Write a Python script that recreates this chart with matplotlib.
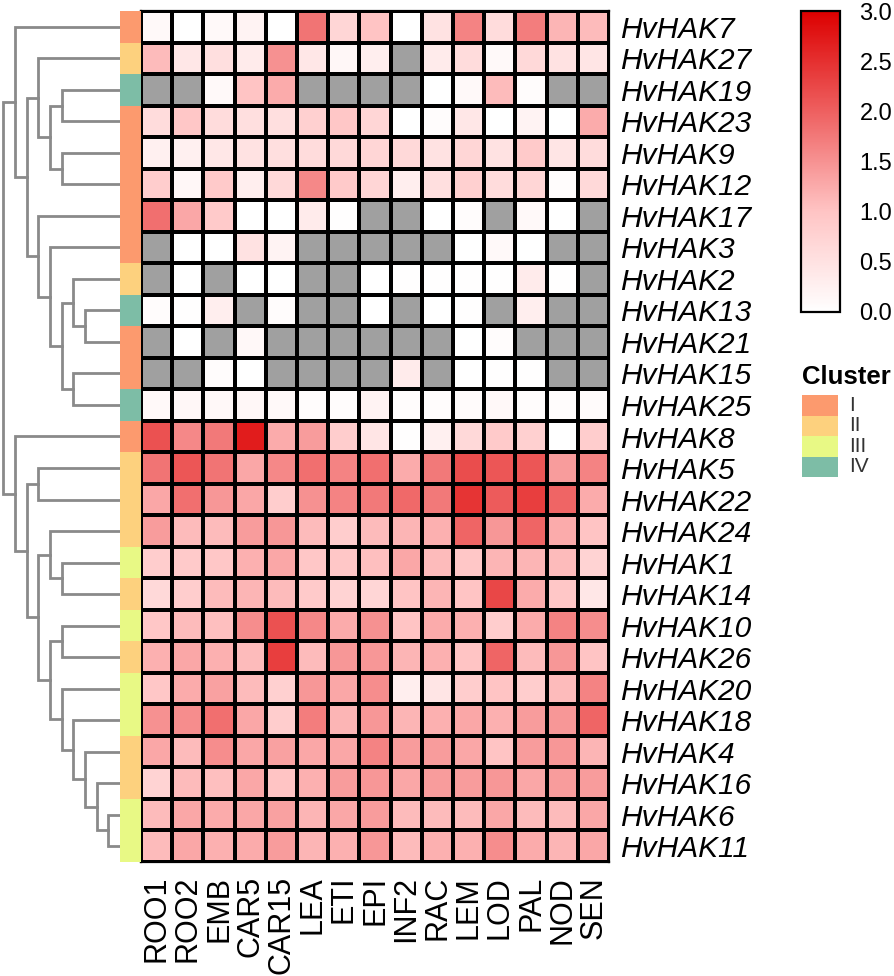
import numpy as np
import matplotlib
matplotlib.use("Agg")
import matplotlib.pyplot as plt
from matplotlib.colors import LinearSegmentedColormap

plt.rcParams['font.family'] = ['Liberation Sans', 'DejaVu Sans']

nan = np.nan

# tissues (columns)
tissues = ["ROO1", "ROO2", "EMB", "CAR5", "CAR15", "LEA", "ETI", "EPI",
           "INF2", "RAC", "LEM", "LOD", "PAL", "NOD", "SEN"]

# genes (rows, top to bottom)
genes = ["HvHAK7", "HvHAK27", "HvHAK19", "HvHAK23", "HvHAK9", "HvHAK12",
         "HvHAK17", "HvHAK3", "HvHAK2", "HvHAK13", "HvHAK21", "HvHAK15",
         "HvHAK25", "HvHAK8", "HvHAK5", "HvHAK22", "HvHAK24", "HvHAK1",
         "HvHAK14", "HvHAK10", "HvHAK26", "HvHAK20", "HvHAK18", "HvHAK4",
         "HvHAK16", "HvHAK6", "HvHAK11"]

# cluster of each gene
clusters = ["I", "II", "IV", "I", "I", "I", "I", "I", "II", "IV", "I", "I",
            "IV", "I", "II", "II", "II", "III", "II", "III", "II", "III",
            "III", "II", "II", "III", "III"]

# log expression values (nan = not detected)
expr = [
    [0.1, 0.0, 0.1, 0.2, 0.0, 1.8, 0.7, 1.0, 0.0, 0.5, 1.65, 0.6, 1.7, 1.15, 1.1],
    [1.1, 0.4, 0.55, 0.35, 1.5, 0.4, 0.15, 0.3, nan, 0.35, 0.6, 0.1, 0.65, 0.5, 0.45],
    [nan, nan, 0.1, 1.0, 1.25, nan, nan, nan, nan, 0.0, 0.1, 1.1, 0.05, nan, nan],
    [0.6, 0.95, 0.6, 0.55, 0.55, 0.8, 0.95, 0.7, 0.0, 0.05, 0.4, 0.0, 0.2, 0.0, 1.25],
    [0.25, 0.25, 0.4, 0.5, 0.55, 0.6, 0.65, 0.7, 0.65, 0.5, 0.7, 0.5, 0.9, 0.45, 0.6],
    [0.85, 0.15, 0.9, 0.3, 0.65, 1.6, 0.9, 0.7, 0.3, 0.55, 0.8, 0.6, 0.7, 0.05, 0.65],
    [1.85, 1.3, 0.9, 0.0, 0.0, 0.35, 0.02, nan, nan, 0.0, 0.05, nan, 0.1, 0.0, nan],
    [nan, 0.0, 0.0, 0.5, 0.2, nan, nan, nan, nan, nan, 0.0, 0.1, 0.0, nan, nan],
    [nan, 0.0, nan, 0.0, 0.0, nan, nan, 0.0, 0.03, 0.03, 0.02, 0.02, 0.35, 0.03, nan],
    [0.05, 0.02, 0.3, nan, 0.05, nan, nan, 0.0, nan, 0.0, 0.02, nan, 0.3, nan, nan],
    [nan, 0.0, nan, 0.12, nan, nan, nan, nan, nan, nan, 0.0, 0.05, nan, nan, nan],
    [nan, nan, 0.05, 0.0, nan, nan, nan, nan, 0.35, nan, 0.0, 0.03, 0.03, nan, nan],
    [0.1, 0.15, 0.12, 0.15, 0.1, 0.05, 0.05, 0.2, 0.05, 0.05, 0.08, 0.12, 0.05, 0.05, 0.08],
    [2.15, 1.6, 1.75, 2.7, 1.25, 1.4, 0.85, 0.45, 0.02, 0.25, 0.65, 0.9, 0.8, 0.0, 0.85],
    [1.8, 2.1, 1.8, 1.3, 1.6, 1.85, 1.65, 1.85, 1.25, 1.75, 2.2, 2.1, 2.1, 1.4, 1.65],
    [1.3, 1.85, 1.45, 1.3, 0.85, 1.5, 1.65, 1.75, 1.9, 1.75, 2.45, 2.05, 2.35, 1.95, 1.25],
    [1.4, 1.1, 1.1, 1.4, 1.45, 1.1, 0.85, 1.1, 1.15, 1.2, 1.95, 1.45, 1.95, 1.25, 1.0],
    [0.85, 0.9, 0.95, 1.2, 1.3, 0.95, 0.95, 1.05, 1.3, 1.1, 0.95, 1.15, 1.15, 1.1, 0.75],
    [0.65, 0.85, 1.1, 1.15, 1.1, 0.9, 0.75, 0.7, 1.0, 1.15, 1.0, 2.25, 1.25, 0.95, 0.4],
    [0.95, 1.1, 1.05, 1.55, 2.15, 1.6, 1.25, 1.5, 1.0, 1.25, 1.2, 0.85, 1.25, 1.65, 1.55],
    [1.2, 1.3, 1.2, 1.1, 2.35, 1.1, 1.45, 1.45, 1.15, 1.2, 1.0, 1.95, 1.1, 1.45, 1.0],
    [0.95, 1.25, 1.35, 1.1, 0.8, 1.45, 1.3, 1.55, 0.3, 0.45, 0.85, 1.0, 0.85, 1.1, 1.65],
    [1.5, 1.55, 1.85, 1.3, 0.85, 1.7, 1.15, 1.45, 1.15, 1.2, 1.3, 1.2, 1.4, 1.45, 1.95],
    [1.3, 1.1, 1.55, 1.3, 1.35, 1.3, 1.3, 1.65, 1.4, 1.4, 1.3, 1.0, 1.4, 1.45, 1.15],
    [0.75, 1.1, 1.05, 1.3, 1.0, 1.2, 1.4, 1.45, 1.3, 1.4, 1.4, 1.45, 1.3, 1.4, 1.4],
    [1.1, 1.3, 1.25, 1.3, 1.35, 1.15, 1.3, 1.4, 1.1, 1.1, 1.1, 1.3, 1.1, 1.1, 1.3],
    [1.1, 1.3, 1.2, 1.25, 1.4, 1.15, 1.2, 1.45, 1.1, 1.2, 1.2, 1.55, 1.25, 1.15, 1.3],
]

# row dendrogram: (child a, child b, height); ids >= 27 are earlier merges
linkage = [
    (25, 26, 12), (24, 27, 23), (23, 28, 35), (22, 29, 47), (21, 30, 58),
    (19, 20, 58), (17, 18, 58), (2, 3, 58), (4, 5, 58), (9, 10, 35),
    (8, 36, 47), (11, 12, 47), (37, 38, 58), (7, 39, 70), (6, 40, 82),
    (34, 35, 70), (1, 42, 82), (43, 41, 93), (0, 44, 105), (14, 15, 82),
    (16, 33, 70), (32, 31, 70), (47, 48, 82), (46, 49, 93), (13, 50, 105),
    (45, 51, 117),
]

cluster_names = ["I", "II", "III", "IV"]
cluster_colors = {"I": "#FC9A6E", "II": "#FDD17E", "III": "#E8F985", "IV": "#7DBDA6"}

W, H = 894, 976
fig = plt.figure(figsize=(W / 100, H / 100), dpi=100)


def px_axes(x0, y0, x1, y1):
    return fig.add_axes([x0 / W, 1 - y1 / H, (x1 - x0) / W, (y1 - y0) / H])


cmap = LinearSegmentedColormap.from_list(
    "wr", [(0, "#FFFFFF"), (1 / 3, "#FFC4C4"), (2 / 3, "#EE6060"), (1, "#DC0000")])
cmap.set_bad("#A0A0A0")

data = np.ma.masked_invalid(np.array(expr))
nrow, ncol = data.shape

# heatmap
ax = px_axes(141, 11, 609, 862)
mesh = ax.pcolormesh(np.arange(ncol + 1), np.arange(nrow + 1), data, cmap=cmap,
                     vmin=0, vmax=3, edgecolors="black", linewidth=1.6)
ax.set_xlim(0, ncol)
ax.set_ylim(nrow, 0)
ax.set_xticks(np.arange(ncol) + 0.5)
ax.set_xticklabels(tissues, rotation=90, fontsize=22)
ax.set_yticks(np.arange(nrow) + 0.5)
ax.set_yticklabels(genes, fontsize=21.5, style="italic")
ax.yaxis.tick_right()
ax.tick_params(axis="y", length=0, pad=8)
ax.tick_params(axis="x", length=0, pad=10)
for s in ax.spines.values():
    s.set_linewidth(1.6)

# cluster bar
axc = px_axes(120, 11, 141, 862)
for i, c in enumerate(clusters):
    axc.barh(i + 0.5, 1, height=1, color=cluster_colors[c], linewidth=0)
axc.set_xlim(0, 1)
axc.set_ylim(nrow, 0)
axc.axis("off")

# dendrogram
axd = px_axes(0, 11, 120, 862)
ypos = {i: i + 0.5 for i in range(nrow)}
hpos = {i: 0 for i in range(nrow)}
for k, (a, b, h) in enumerate(linkage):
    nid = nrow + k
    axd.plot([hpos[a], h, h, hpos[b]], [ypos[a], ypos[a], ypos[b], ypos[b]],
             color="#8A8A8A", lw=2, solid_joinstyle="miter")
    ypos[nid] = (ypos[a] + ypos[b]) / 2
    hpos[nid] = h
axd.set_xlim(120, 0)
axd.set_ylim(nrow, 0)
axd.axis("off")

# colorbar
cax = px_axes(801, 11, 840, 312)
cb = fig.colorbar(mesh, cax=cax, ticks=np.arange(0, 3.01, 0.5))
cb.ax.set_yticklabels([f"{t:.1f}" for t in np.arange(0, 3.01, 0.5)], fontsize=17)
cb.ax.tick_params(length=0, pad=14)
cb.outline.set_linewidth(1.6)

# cluster legend
fig.text(802 / W, 1 - 377 / H, "Cluster", fontsize=18.5, fontweight="bold", va="center")
axl = px_axes(802, 395, 838, 477)
for i, c in enumerate(cluster_names):
    axl.barh(i + 0.5, 1, height=1, color=cluster_colors[c], linewidth=0)
    axl.text(1.3, i + 0.5, c, fontsize=15, va="center", ha="left", color="#333333")
axl.set_xlim(0, 1)
axl.set_ylim(4, 0)
axl.axis("off")

fig.savefig("out.png", dpi=100)
